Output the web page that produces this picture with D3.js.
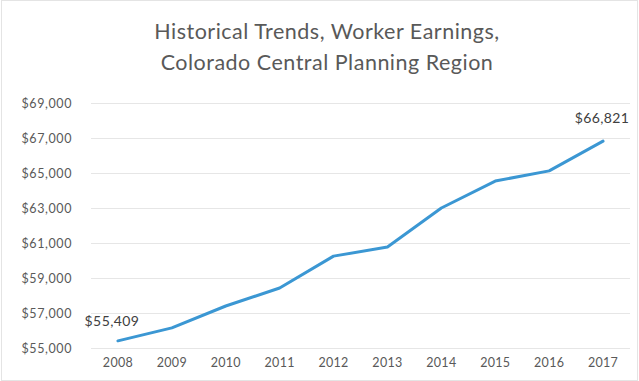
<!DOCTYPE html>
<html>
<head>
<meta charset="utf-8">
<script src="https://cdn.jsdelivr.net/npm/d3@7"></script>
<style>
  html, body { margin: 0; padding: 0; background: #fff; }
  svg { display: block; }
</style>
</head>
<body>
<svg id="chart" width="639" height="381"></svg>
<script>
// Average worker earnings by year
const years = ["2008", "2009", "2010", "2011", "2012", "2013", "2014", "2015", "2016", "2017"];
const earnings = [55409, 56150, 57400, 58430, 60250, 60770, 63000, 64540, 65120, 66821];
const yTicks = [55000, 57000, 59000, 61000, 63000, 65000, 67000, 69000];
const titleLines = ["Historical Trends, Worker Earnings,", "Colorado Central Planning Region"];

const svg = d3.select("#chart");
const W = 639, H = 381;
const margin = { left: 91, right: 9, top: 103, bottom: 33 };

const font = "Lato, 'Open Sans', sans-serif";

// chart frame
svg.append("rect")
  .attr("x", 1.5).attr("y", 0.5)
  .attr("width", W - 3).attr("height", H - 1)
  .attr("fill", "#fff").attr("stroke", "#e4e4e4");

const x = d3.scaleBand()
  .domain(years)
  .range([margin.left, W - margin.right]);

const y = d3.scaleLinear()
  .domain([55000, 69000])
  .range([H - margin.bottom, margin.top]);

// horizontal gridlines
svg.append("g")
  .selectAll("line")
  .data(yTicks)
  .join("line")
  .attr("x1", margin.left)
  .attr("x2", W - margin.right)
  .attr("y1", d => Math.round(y(d)) + 0.5)
  .attr("y2", d => Math.round(y(d)) + 0.5)
  .attr("stroke", "#e6e6e6")
  .attr("stroke-width", 1);

// y axis labels
const fmt = d3.format("$,");
const yAxis = d3.axisLeft(y).tickValues(yTicks).tickFormat(fmt).tickSize(0).tickPadding(0);
svg.append("g")
  .attr("transform", `translate(${margin.left - 19},0)`)
  .call(yAxis)
  .call(g => g.select(".domain").remove())
  .call(g => g.selectAll("text")
    .attr("font-family", font)
    .attr("font-size", 12.5)
    .attr("letter-spacing", 0.6)
    .attr("fill", "#595959"));

// x axis labels
const xAxis = d3.axisBottom(x).tickSize(0).tickPadding(0);
svg.append("g")
  .attr("transform", `translate(0,${H - margin.bottom + 10})`)
  .call(xAxis)
  .call(g => g.select(".domain").remove())
  .call(g => g.selectAll("text")
    .attr("font-family", font)
    .attr("font-size", 12.5)
    .attr("letter-spacing", 0.3)
    .attr("fill", "#595959"));

// earnings line
const cx = d => x(d) + x.bandwidth() / 2;
const line = d3.line()
  .x((d, i) => cx(years[i]))
  .y(d => y(d));

svg.append("path")
  .datum(earnings)
  .attr("d", line)
  .attr("fill", "none")
  .attr("stroke", "#3b97d3")
  .attr("stroke-width", 3)
  .attr("stroke-linejoin", "round")
  .attr("stroke-linecap", "round");

// value labels on first and last points
const ends = [0, earnings.length - 1];
svg.append("g")
  .selectAll("text")
  .data(ends)
  .join("text")
  .attr("x", i => cx(years[i]) + (i === 0 ? -6 : -1))
  .attr("y", i => y(earnings[i]) - (i === 0 ? 15 : 18))
  .attr("text-anchor", "middle")
  .attr("font-family", font)
  .attr("font-size", 14)
  .attr("letter-spacing", 0.4)
  .attr("fill", "#404040")
  .text(i => fmt(earnings[i]));

// title
svg.append("g")
  .selectAll("text")
  .data(titleLines)
  .join("text")
  .attr("x", 327)
  .attr("y", (d, i) => 39 + i * 31)
  .attr("text-anchor", "middle")
  .attr("font-family", font)
  .attr("font-size", 21.5)
  .attr("letter-spacing", 0.5)
  .attr("fill", "#595959")
  .text(d => d);
</script>
</body>
</html>
